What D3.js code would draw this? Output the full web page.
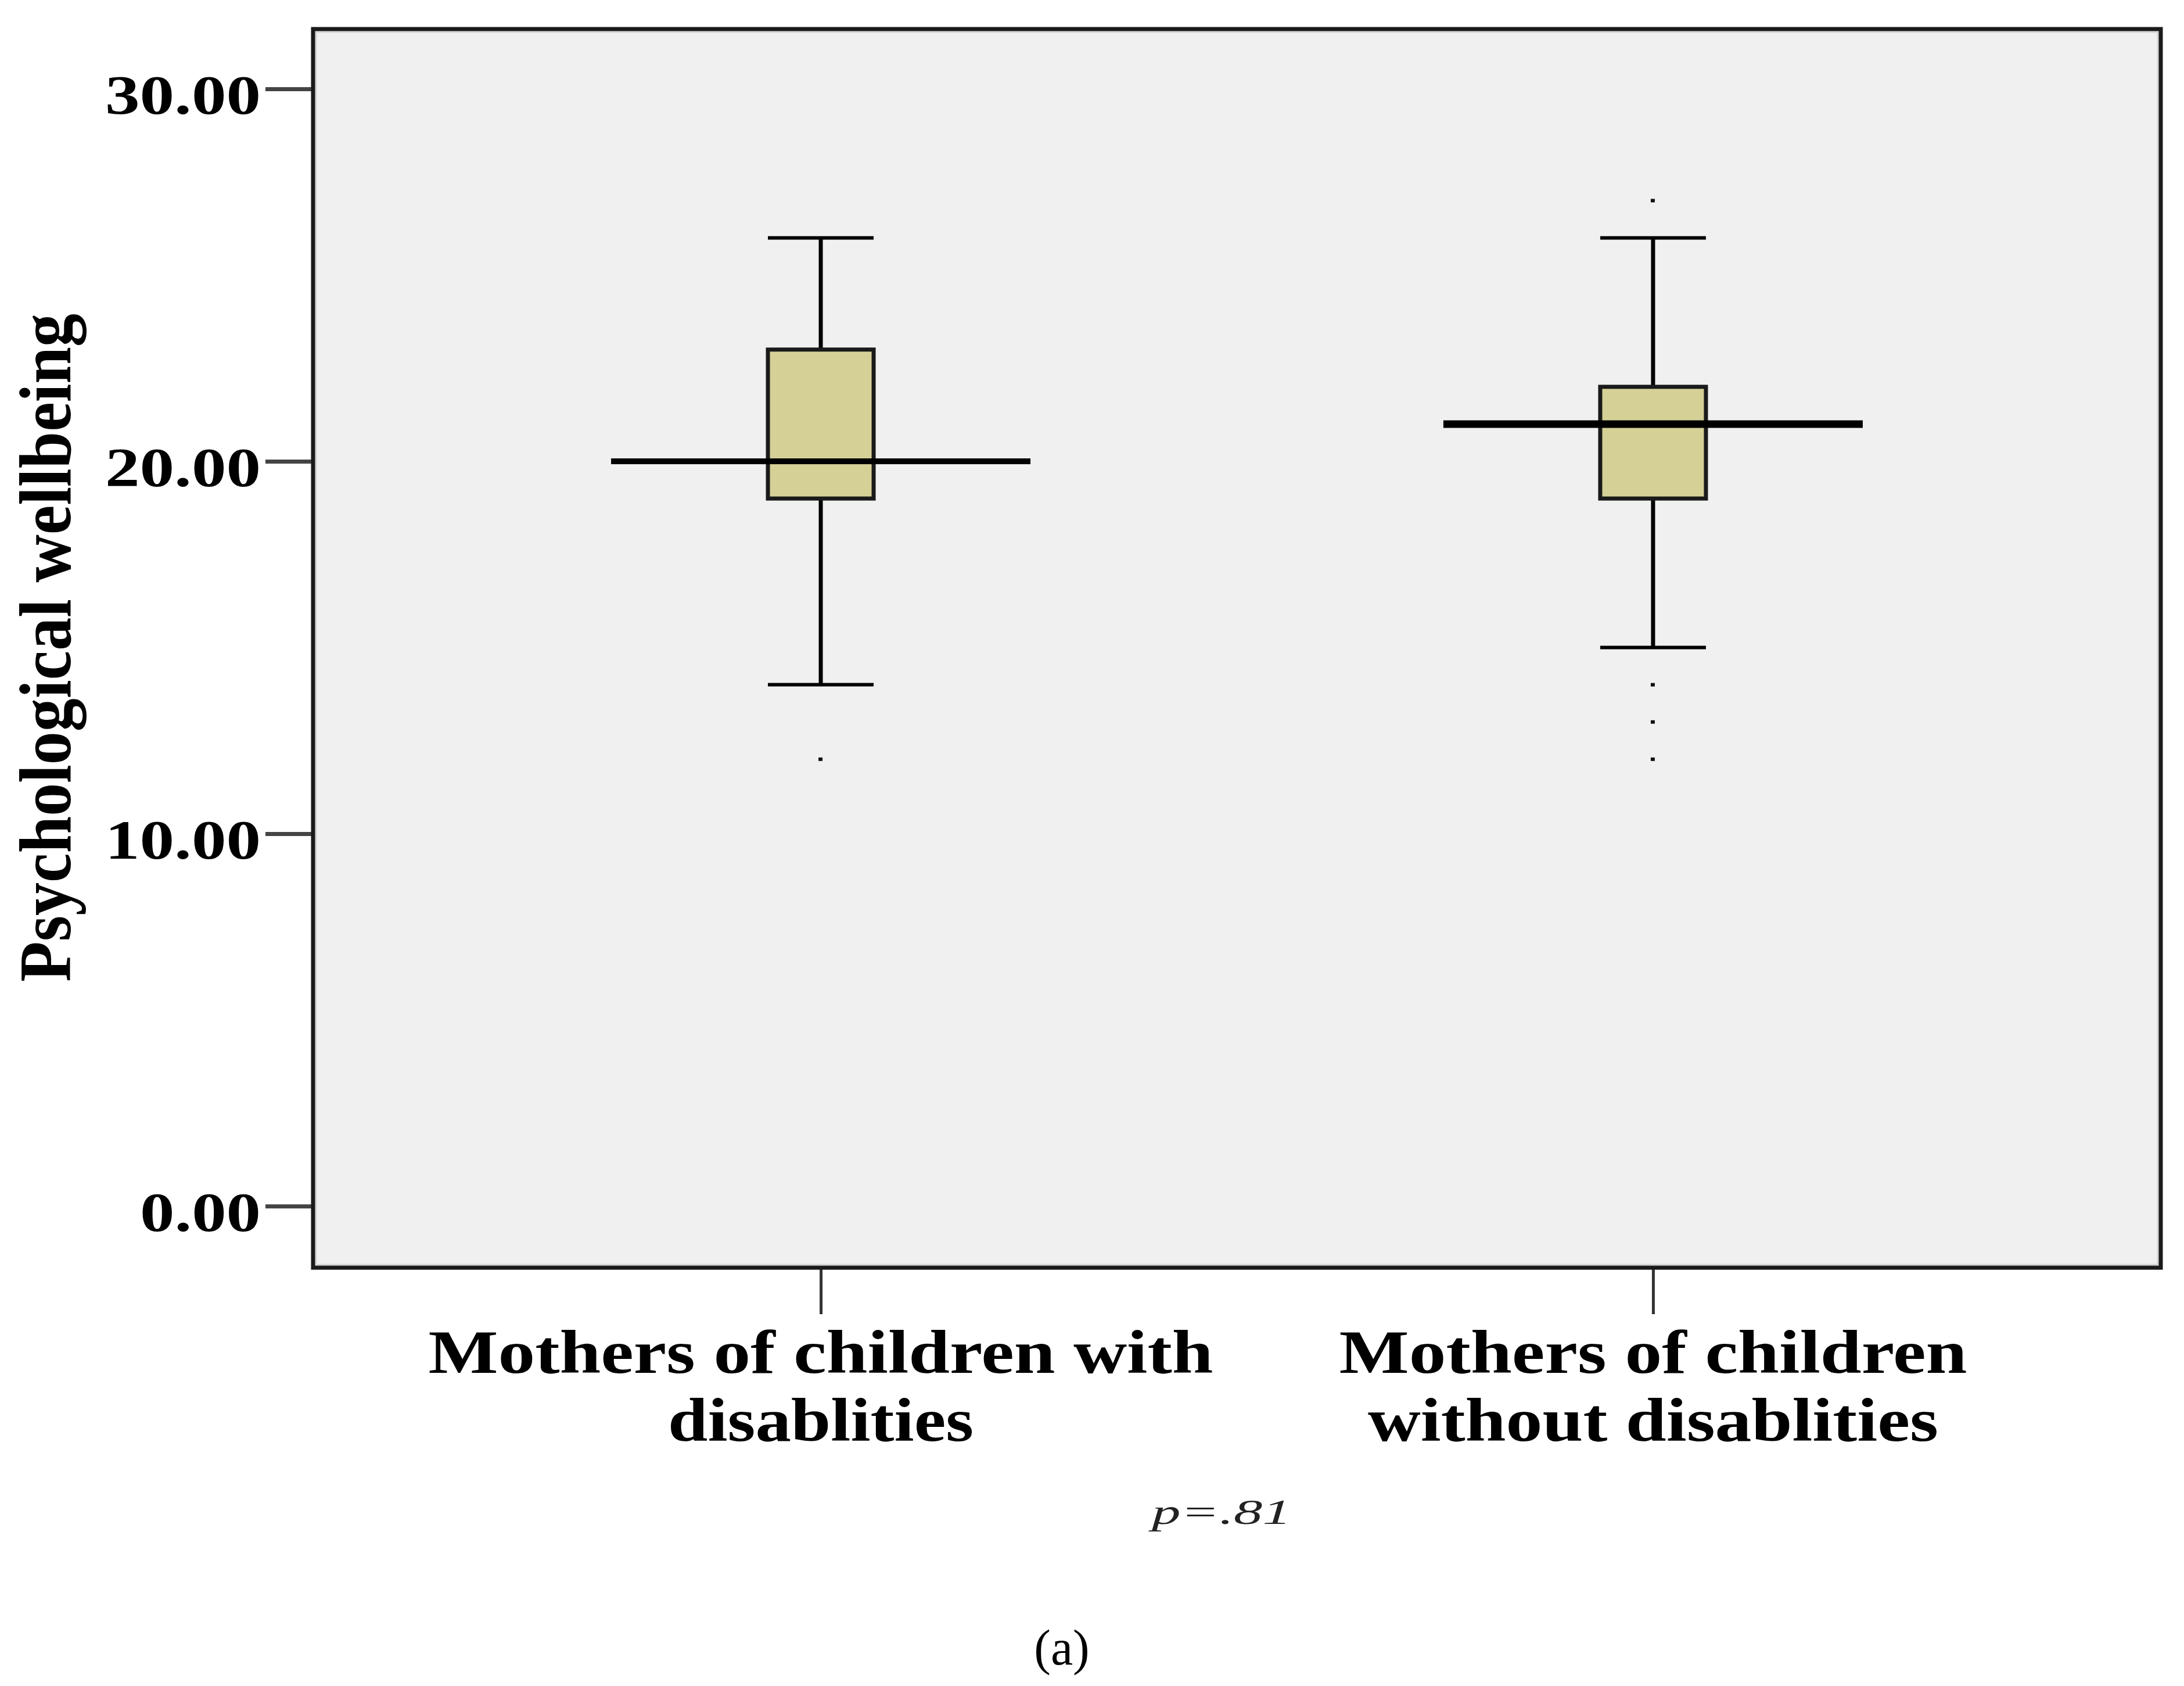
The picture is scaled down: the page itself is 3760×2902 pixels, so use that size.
<!DOCTYPE html>
<html>
<head>
<meta charset="utf-8">
<script src="https://cdn.jsdelivr.net/npm/d3@7"></script>
<style>
  body { margin: 0; background: #ffffff; }
  svg { display: block; }
</style>
</head>
<body>
<div id="chart"></div>
<script>
// Data
var groups = ["Mothers of children with disablities", "Mothers of children without disablities"];
var groupLines = [["Mothers of children with", "disablities"], ["Mothers of children", "without disablities"]];
var whiskerLow = [14, 15];
var q1 = [19, 19];
var median = [20, 21];
var q3 = [23, 22];
var whiskerHigh = [26, 26];
var outliers = [[12], [27, 14, 13, 12]];
var yTicks = [0, 10, 20, 30];
var yTitle = "Psychological wellbeing";
var pText = "p=.81";
var panelText = "(a)";

var svgWidth = 3760;
var svgHeight = 2902;

var svg = d3.select("#chart")
    .append("svg")
    .attr("width", svgWidth)
    .attr("height", svgHeight);

// plot frame
var frame = { left: 539, right: 3720, top: 50, bottom: 2182 };

// Scales
var yScale = d3.scaleLinear()
    .domain([0, 30])
    .range([2076, 153]);

var xScale = d3.scalePoint()
    .domain(groups)
    .range([frame.left, frame.right])
    .padding(0.61);

// Panel background
svg.append("rect")
    .attr("x", frame.left)
    .attr("y", frame.top)
    .attr("width", frame.right - frame.left)
    .attr("height", frame.bottom - frame.top)
    .attr("fill", "#f0f0f0");

// Y axis
var leftAxis = d3.axisLeft(yScale)
    .tickValues(yTicks)
    .tickSize(80)
    .tickPadding(8)
    .tickFormat(d3.format(".2f"));

var yAxisG = svg.append("g")
    .attr("transform", `translate(${frame.left - 2}, 0)`)
    .call(leftAxis);
yAxisG.select(".domain").remove();
yAxisG.selectAll(".tick line")
    .attr("stroke", "#444")
    .attr("stroke-width", 7);
yAxisG.selectAll(".tick text")
    .attr("font-family", "'Liberation Serif', 'Times New Roman', serif")
    .attr("font-weight", "bold")
    .attr("font-size", 96)
    .attr("fill", "#000")
    .attr("dy", "0.44em")
    .attr("textLength", d => d >= 10 ? 268 : 208)
    .attr("lengthAdjust", "spacingAndGlyphs");

// X axis ticks
var bottomAxis = d3.axisBottom(xScale)
    .tickSize(80)
    .tickFormat("");

var xAxisG = svg.append("g")
    .attr("transform", `translate(0, ${frame.bottom})`)
    .call(bottomAxis);
xAxisG.select(".domain").remove();
xAxisG.selectAll(".tick line")
    .attr("stroke", "#333")
    .attr("stroke-width", 5);

// Category labels (two lines each)
groups.forEach(function(g, i) {
    var lineWidths = i === 0 ? [1351, 526] : [1081, 982];
    groupLines[i].forEach(function(line, j) {
        svg.append("text")
            .attr("x", xScale(g))
            .attr("y", 2363 + j * 117)
            .attr("text-anchor", "middle")
            .attr("font-family", "'Liberation Serif', 'Times New Roman', serif")
            .attr("font-weight", "bold")
            .attr("font-size", 106)
            .attr("textLength", lineWidths[j])
            .attr("lengthAdjust", "spacingAndGlyphs")
            .text(line);
    });
});

// Boxplots
var boxWidth = 182;
var medianWidth = 722;
var boxes = svg.append("g");

groups.forEach(function(g, i) {
    var cx = xScale(g);
    var b = boxes.append("g");

    // whisker stems
    b.append("line")
        .attr("x1", cx).attr("x2", cx)
        .attr("y1", yScale(whiskerHigh[i])).attr("y2", yScale(q3[i]))
        .attr("stroke", "#000").attr("stroke-width", 7);
    b.append("line")
        .attr("x1", cx).attr("x2", cx)
        .attr("y1", yScale(q1[i])).attr("y2", yScale(whiskerLow[i]))
        .attr("stroke", "#000").attr("stroke-width", 7);

    // caps
    [whiskerHigh[i], whiskerLow[i]].forEach(function(v) {
        b.append("line")
            .attr("x1", cx - boxWidth / 2).attr("x2", cx + boxWidth / 2)
            .attr("y1", yScale(v)).attr("y2", yScale(v))
            .attr("stroke", "#000").attr("stroke-width", 6);
    });

    // box
    b.append("rect")
        .attr("x", cx - boxWidth / 2)
        .attr("y", yScale(q3[i]))
        .attr("width", boxWidth)
        .attr("height", yScale(q1[i]) - yScale(q3[i]))
        .attr("fill", "#d5d096")
        .attr("stroke", "#1a1a1a")
        .attr("stroke-width", 7);

    // median line
    b.append("line")
        .attr("x1", cx - medianWidth / 2).attr("x2", cx + medianWidth / 2)
        .attr("y1", yScale(median[i])).attr("y2", yScale(median[i]))
        .attr("stroke", "#000").attr("stroke-width", i === 0 ? 10 : 13);

    // outliers
    b.selectAll("rect.outlier")
        .data(outliers[i])
        .enter()
        .append("rect")
        .attr("class", "outlier")
        .attr("x", cx - 4)
        .attr("y", d => yScale(d) - 3)
        .attr("width", 7)
        .attr("height", 6)
        .attr("fill", "#111");
});

// Frame border
svg.append("rect")
    .attr("x", frame.left + 5)
    .attr("y", frame.top + 5)
    .attr("width", frame.right - frame.left - 10)
    .attr("height", frame.bottom - frame.top - 10)
    .attr("fill", "none")
    .attr("stroke", "#d4d4d4")
    .attr("stroke-width", 3);
svg.append("rect")
    .attr("x", frame.left)
    .attr("y", frame.top)
    .attr("width", frame.right - frame.left)
    .attr("height", frame.bottom - frame.top)
    .attr("fill", "none")
    .attr("stroke", "#1a1a1a")
    .attr("stroke-width", 7);

// Y axis title
svg.append("text")
    .attr("transform", `translate(121, 1115) rotate(-90)`)
    .attr("text-anchor", "middle")
    .attr("font-family", "'Liberation Serif', 'Times New Roman', serif")
    .attr("font-weight", "bold")
    .attr("font-size", 126)
    .attr("textLength", 1150)
    .attr("lengthAdjust", "spacingAndGlyphs")
    .text(yTitle);

// p value
svg.append("text")
    .attr("x", 2103)
    .attr("y", 2623)
    .attr("text-anchor", "middle")
    .attr("font-family", "'Liberation Serif', 'Times New Roman', serif")
    .attr("font-style", "italic")
    .attr("font-size", 62)
    .attr("fill", "#222")
    .attr("textLength", 240)
    .attr("lengthAdjust", "spacingAndGlyphs")
    .text(pText);

// panel label
svg.append("text")
    .attr("x", 1828)
    .attr("y", 2865)
    .attr("text-anchor", "middle")
    .attr("font-family", "'Liberation Serif', 'Times New Roman', serif")
    .attr("font-size", 86)
    .attr("fill", "#000")
    .text(panelText);
</script>
</body>
</html>
